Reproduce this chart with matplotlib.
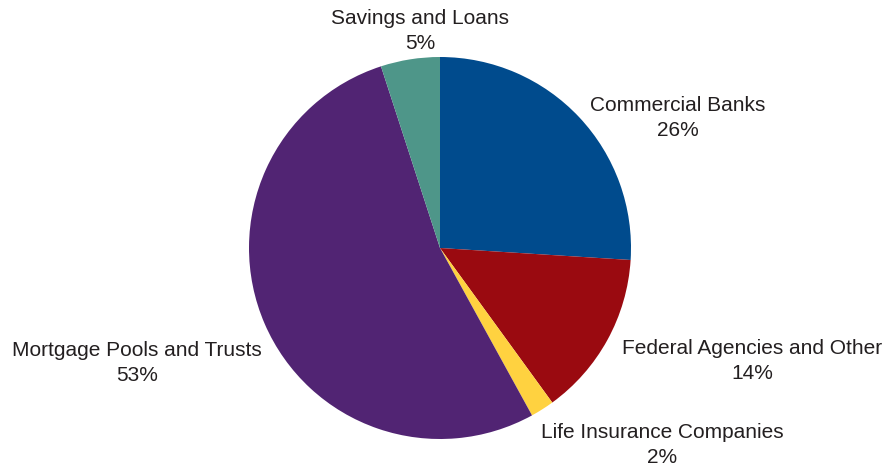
import matplotlib
matplotlib.use('Agg')
import matplotlib.pyplot as plt

plt.rcParams['font.family'] = ['Liberation Sans', 'DejaVu Sans']

# 数据
categories = ['Commercial Banks', 'Federal Agencies and Other', 'Life Insurance Companies',
              'Mortgage Pools and Trusts', 'Savings and Loans']
shares = [26, 14, 2, 53, 5]
colors = ['#004B8D', '#9A0A10', '#FFD240', '#512473', '#4E9689']

# 标签位置 (像素, 左上原点)
label_pos = [(678, 118), (752, 361), (662, 445), (137, 363), (420, 31)]

W, H = 889, 467
fig = plt.figure(figsize=(W / 100, H / 100), dpi=100)
ax = fig.add_axes([0, 0, 1, 1])

cx, cy, r = 440, 248, 191
ax.pie(shares, colors=colors, startangle=90, counterclock=False,
       center=(cx, H - cy), radius=r, wedgeprops=dict(linewidth=0))

for name, val, (x, y) in zip(categories, shares, label_pos):
    ax.text(x, H - y, f'{name}\n{val}%', ha='center', va='center',
            fontsize=15, color='#231f20', linespacing=1.42)

ax.set_xlim(0, W)
ax.set_ylim(0, H)
ax.set_aspect('equal')
ax.axis('off')

plt.savefig('out.png', dpi=100)
